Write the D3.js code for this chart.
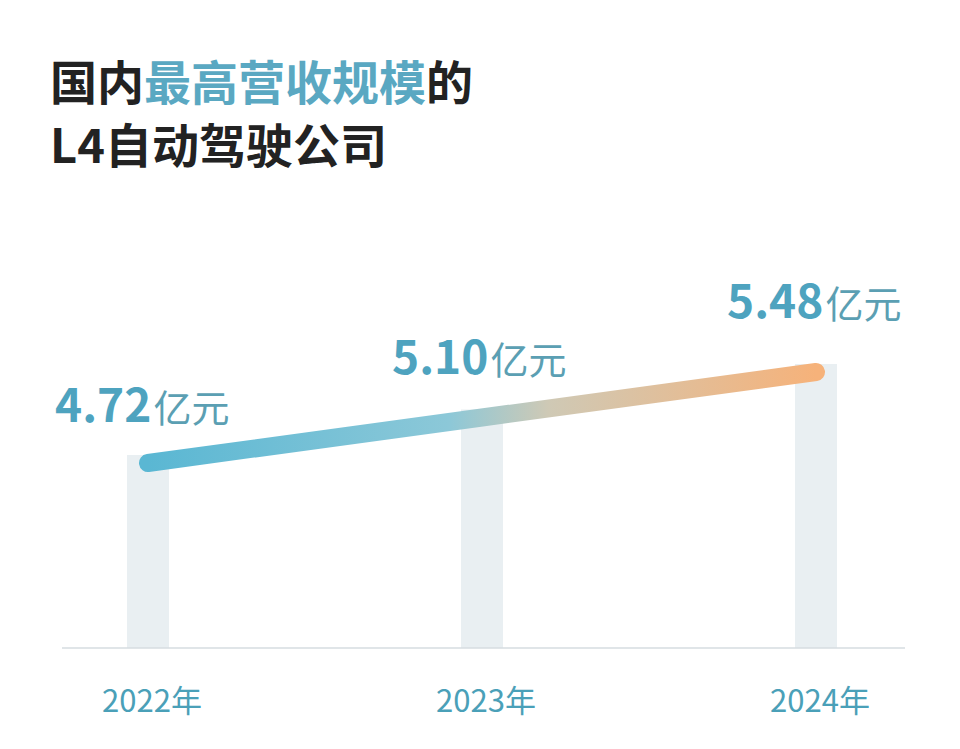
<!DOCTYPE html><html><head><meta charset="utf-8"><script src="https://cdn.jsdelivr.net/npm/d3@7"></script>
<style>body{margin:0;background:#fff}</style></head><body><svg id="c" width="960" height="749"></svg><script>
const years=["2022年","2023年","2024年"];
const values=[4.72,5.10,5.48];
const labels=["4.72","5.10","5.48"];
const svg=d3.select("#c");
const F="'Noto Sans CJK SC','Noto Sans',sans-serif";
const x=d3.scalePoint().domain(years).range([148,816]);
const y=d3.scaleLinear().domain([3.175,5.48]).range([648,372]);
const t1=svg.append("text").attr("x",50).attr("y",100).attr("font-family",F).attr("font-weight",700).attr("font-size",47).attr("fill","#222");
t1.append("tspan").text("国内");t1.append("tspan").attr("fill","#5aa8c2").text("最高营收规模");t1.append("tspan").text("的");
svg.append("text").attr("x",50).attr("y",163).attr("font-family",F).attr("font-weight",700).attr("font-size",47).attr("fill","#222").text("L4自动驾驶公司");
svg.selectAll("rect.b").data(values).join("rect").attr("x",(d,i)=>x(years[i])-21).attr("width",42)
 .attr("y",d=>y(d)-8).attr("height",d=>648-y(d)+8).attr("fill","#e9eff2");
svg.append("line").attr("x1",62).attr("x2",905).attr("y1",648).attr("y2",648).attr("stroke","#d6dde0").attr("stroke-width",1.5);
const g=svg.append("defs").append("linearGradient").attr("id","g").attr("gradientUnits","userSpaceOnUse")
 .attr("x1",x(years[0])).attr("x2",x(years[2])).attr("y1",0).attr("y2",0);
[[0,"#5ab7d3"],[0.45,"#8cc8d8"],[0.6,"#cfc9b5"],[1,"#f6b27a"]].forEach(s=>g.append("stop").attr("offset",s[0]).attr("stop-color",s[1]));
svg.append("path").attr("d",d3.line().x((d,i)=>x(years[i])).y(d=>y(d))(values))
 .attr("stroke","url(#g)").attr("stroke-width",18).attr("stroke-linecap","round").attr("fill","none");
const lx=[55,392,727],ly=[422,374,318];
values.forEach((v,i)=>{const t=svg.append("text").attr("x",lx[i]).attr("y",ly[i]).attr("font-family",F).attr("fill","#4ea3bf");
 t.append("tspan").attr("font-size",46).attr("font-weight",700).text(labels[i]);
 t.append("tspan").attr("font-size",38).attr("fill","#5b9fb3").attr("dx",2).text("亿元");});
svg.selectAll("text.yr").data(years).join("text").attr("x",d=>x(d)+4).attr("y",712).attr("text-anchor","middle")
 .attr("font-family",F).attr("font-size",31).attr("fill","#4aa0b8").text(d=>d);
</script></body></html>
